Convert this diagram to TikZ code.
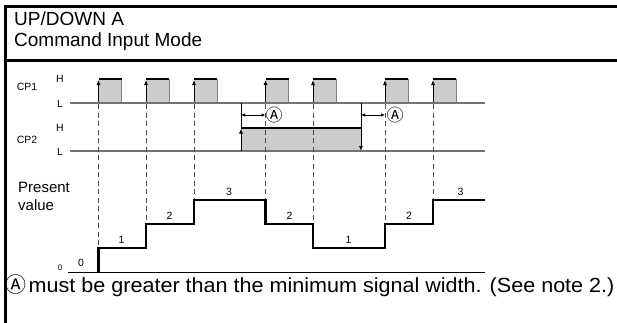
\documentclass[tikz,border=0pt]{standalone}
\usepackage{fontspec}
\setmainfont{Liberation Sans}
\newfontfamily\cjkA{Noto Sans CJK JP}
\newfontfamily\notefont[FakeStretch=1.052]{Liberation Sans}
\usetikzlibrary{arrows.meta}
\tikzset{
  frameln/.style={line width=3pt, line cap=rect},
  lowline/.style={draw=black!55, line width=1.1pt},
  pulsefill/.style={fill=black!20},
  highln/.style={line width=2pt, line cap=butt},
  fallln/.style={draw=black!50, line width=1pt},
  upedge/.style={line width=0.9pt, -{Latex[length=5pt,width=4pt]}},
  dimarrow/.style={line width=0.8pt, {Latex[length=4pt,width=3.5pt]}-{Latex[length=4pt,width=3.5pt]}},
  dashln/.style={dashed, dash pattern=on 5pt off 3.5pt, line width=0.9pt, draw=black!70},
  pvline/.style={line width=2.4pt, line join=miter},
  smalltxt/.style={font=\fontsize{10.5}{12}\selectfont},
  steptxt/.style={font=\fontsize{10.5}{12}\selectfont},
  circA/.style={font=\cjkA\fontsize{17}{17}\selectfont, inner sep=0pt}
}
\begin{document}
\begin{tikzpicture}[x=1pt,y=-1pt]
\useasboundingbox (0,0) rectangle (617,322);
% frame
\draw[frameln] (5,322) -- (5,6) -- (617,6);
\draw[frameln] (5,60) -- (617,60);
% title
\node[anchor=base west, inner sep=0pt, font=\fontsize{19}{20}\selectfont] (t1) at (14,25.5) {UP/DOWN A};
\node[anchor=base west, inner sep=0pt, font=\fontsize{19}{20}\selectfont] (t2) at (14,46) {Command Input Mode};
% labels
\node[smalltxt] (cp1) at (27,87) {CP1};
\node[smalltxt] (cp2) at (27,140) {CP2};
\node[smalltxt] (h1) at (60,79) {H};
\node[smalltxt] (l1) at (60,103.5) {L};
\node[smalltxt] (h2) at (60,128) {H};
\node[smalltxt] (l2) at (60,151.5) {L};
\node[anchor=base west, inner sep=0pt, align=left, font=\fontsize{15}{18}\selectfont] (pv) at (18,210) {Present\\value};
\node[font=\fontsize{8}{9}\selectfont] (z0) at (60,268) {0};
% CP2 pulse
\fill[pulsefill] (241,151) rectangle (361,128);
\draw[highln] (241,128) -- (361,128);
% CP1 pulses
\foreach \r in {98.5,146,194,265.5,313,385,433}{
  \fill[pulsefill] (\r,103) rectangle (\r+23,79);
  \draw[fallln] (\r+23,79) -- (\r+23,103);
  \draw[highln] (\r,79) -- (\r+23,79);
  \draw[upedge] (\r,103) -- (\r,80);
}
% baselines
\draw[lowline] (70,103) -- (485,103);
\draw[lowline] (70,151) -- (485,151);
% CP2 edges
\coordinate (r2top) at (241,103);
\coordinate (r2h) at (241,128.5);
\coordinate (r2bot) at (241,151);
\draw[line width=0.9pt] (r2top) -- (r2h);
\draw[upedge] (r2bot) -- (r2h);
\coordinate (f2top) at (361,103);
\coordinate (f2bot) at (361,151);
\draw[upedge] (f2top) -- (f2bot);
% dimension arrows
\coordinate (d1a) at (241,115);
\coordinate (d1b) at (265.5,115);
\coordinate (d2a) at (361,115);
\coordinate (d2b) at (385,115);
\draw[dimarrow] (d1a) -- (d1b);
\draw[dimarrow] (d2a) -- (d2b);
\node[circA] (A1) at (274,115) {Ⓐ};
\node[circA] (A2) at (395,115) {Ⓐ};
% dashed lines
\foreach \r/\lv in {98.5/248,146/224,194/200,265.5/200,313/224,385/224,433/200}{
  \draw[dashln] (\r,104) -- (\r,\lv);
}
% present value
\draw[line width=1pt] (68,272) -- (485,272);
\draw[pvline] (98.5,272) -- (98.5,248) -- (146,248) -- (146,224) -- (194,224) -- (194,200)
  -- (265.5,200) -- (265.5,224) -- (313,224) -- (313,248) -- (385,248) -- (385,224)
  -- (433,224) -- (433,200) -- (485,200);
\node[steptxt] (s0) at (81,263) {0};
\node[steptxt] (s1) at (121.5,240) {1};
\node[steptxt] (s2) at (169.5,216) {2};
\node[steptxt] (s3) at (229,192) {3};
\node[steptxt] (s4) at (289.5,216) {2};
\node[steptxt] (s5) at (348.5,240) {1};
\node[steptxt] (s6) at (409,216) {2};
\node[steptxt] (s7) at (460.5,192) {3};
% note
\node[anchor=base west, inner sep=0pt, font=\notefont\fontsize{20.5}{22}\selectfont] (note) at (5,292) {{\cjkA\fontsize{21}{21}\selectfont Ⓐ}\hspace{2.5pt}must be greater than the minimum signal width. (See note 2.)};
\end{tikzpicture}
\end{document}
